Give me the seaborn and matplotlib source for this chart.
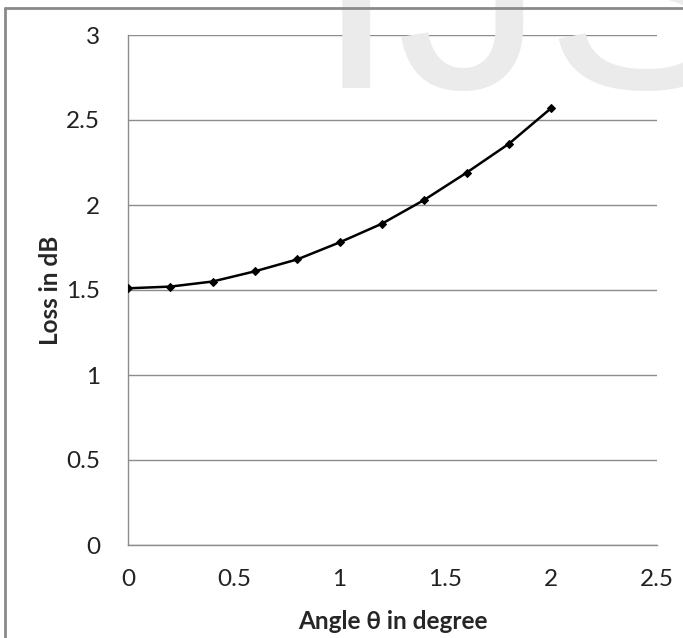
import matplotlib
matplotlib.use("Agg")
import matplotlib.pyplot as plt
import seaborn as sns
import pandas as pd
from matplotlib.lines import Line2D

# Loss versus tilt angle
angle_deg = [0.0, 0.2, 0.4, 0.6, 0.8, 1.0, 1.2, 1.4, 1.6, 1.8, 2.0]
loss_db = [1.51, 1.52, 1.55, 1.61, 1.68, 1.78, 1.89, 2.03, 2.19, 2.36, 2.57]
x_ticks = [0, 0.5, 1, 1.5, 2, 2.5]
y_ticks = [0, 0.5, 1, 1.5, 2, 2.5, 3]
x_tick_labels = ["0", "0.5", "1", "1.5", "2", "2.5"]
y_tick_labels = ["0", "0.5", "1", "1.5", "2", "2.5", "3"]

df = pd.DataFrame({"angle": angle_deg, "loss": loss_db})

sns.set_theme(style="white")
plt.rcParams["font.family"] = ["Lato", "DejaVu Sans"]

W, H = 683, 638
fig = plt.figure(figsize=(W / 100, H / 100), dpi=100)
fig.patch.set_facecolor("white")

# faint watermark behind the plot
fig.text(315 / W, 1 - 88 / H, "IJSER", fontsize=214, color="#ebebeb",
         family=["Liberation Sans", "DejaVu Sans"], ha="left", va="baseline",
         zorder=0)

# frame around the chart area
fig.add_artist(Line2D([4.5 / W, 4.5 / W], [0, 1 - 8 / H], transform=fig.transFigure,
                      color="#8a8a8a", lw=2.0, zorder=1))
fig.add_artist(Line2D([4.5 / W, 1], [1 - 8 / H, 1 - 8 / H], transform=fig.transFigure,
                      color="#8a8a8a", lw=2.0, zorder=1))

ax = fig.add_axes([128 / W, 1 - 545 / H, (657 - 128) / W, (545 - 35) / H])
ax.patch.set_alpha(0)

sns.lineplot(data=df, x="angle", y="loss", ax=ax, color="black", lw=1.8,
             marker="D", markersize=4.5, markeredgecolor="black", zorder=5)

ax.set_xlim(0, 2.5)
ax.set_ylim(0, 3)
ax.set_xticks(x_ticks)
ax.set_xticklabels(x_tick_labels)
ax.set_yticks(y_ticks)
ax.set_yticklabels(y_tick_labels)
ax.tick_params(axis="both", length=0, labelsize=17.5, colors="#222222")
ax.tick_params(axis="x", pad=17)
ax.tick_params(axis="y", pad=20)

ax.yaxis.grid(True, color="#8c8c8c", lw=1.0)
ax.xaxis.grid(False)
for side in ["top", "right"]:
    ax.spines[side].set_visible(False)
for side in ["left", "bottom"]:
    ax.spines[side].set_color("#8c8c8c")
    ax.spines[side].set_linewidth(1.0)

ax.set_xlabel("Angle θ in degree", fontsize=17.5, fontweight="bold", labelpad=15)
ax.set_ylabel("Loss in dB", fontsize=17.5, fontweight="bold", labelpad=3)

fig.savefig("out.png", dpi=100)
